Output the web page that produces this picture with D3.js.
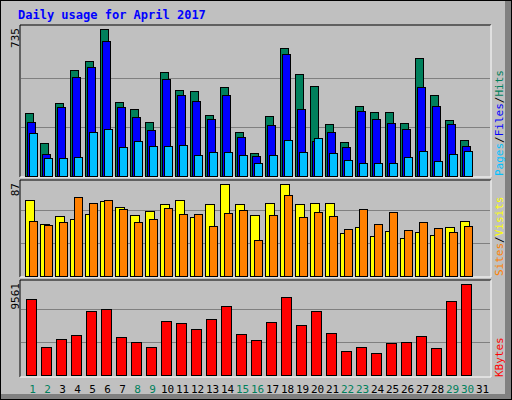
<!DOCTYPE html><html><head><script src="https://cdn.jsdelivr.net/npm/d3@7"></script>
<style>body{margin:0;background:#fff}</style></head><body><svg id="c" width="512" height="400"></svg>
<script>
const days=d3.range(1,32);
const weekend=[1,2,8,9,15,16,22,23,29,30];
const hits=[317,167,367,532,577,735,372,337,272,522,432,427,307,447,222,117,302,642,512,452,262,172,352,322,322,267,592,407,282,182,0];
const files=[272,112,347,497,547,677,347,297,232,487,407,377,287,407,197,102,257,612,337,177,222,147,327,287,267,237,447,352,262,152,0];
const pages=[217,92,92,97,222,237,147,177,152,152,157,107,122,122,107,67,107,182,122,192,117,82,67,67,67,97,127,77,112,127,0];
const visits=[66.8,45.7,52.7,50.1,54.5,65.9,60.7,53.6,57.1,63.3,66.8,51.9,63.3,80.9,63.3,53.6,64.2,80.9,63.3,64.2,64.2,37.8,43.1,35.2,39.6,33.4,38.7,36,43.1,48.3,0];
const sites=[48.3,44.8,47.5,69.4,64.2,66.8,58.9,47.5,50.1,59.8,54.5,54.5,44,55.4,58,31.6,53.6,71.2,51.9,56.3,52.7,41.3,58.9,45.7,56.3,40.4,47.5,42.2,38.7,44,0];
const kbytes=[7380,2743,3516,3902,6221,6414,3709,3226,2743,5255,5062,4482,5448,6704,3999,3420,5158,7573,4869,6221,4096,2357,2743,2164,3130,3226,3806,2647,7187,8829,0];
const maxHits=735,maxVisits=87,maxKB=9561;
const svg=d3.select("#c"),F="DejaVu Sans Mono, monospace";
svg.append("rect").attr("x",0.5).attr("y",0.5).attr("width",511).attr("height",399).attr("fill","#c0c0c0").attr("stroke","#000");
svg.append("rect").attr("x",505).attr("y",1).attr("width",6).attr("height",398).attr("fill","#808080");
svg.append("rect").attr("x",1).attr("y",394).attr("width",510).attr("height",5).attr("fill","#808080");
svg.append("text").attr("x",18).attr("y",19).attr("font-family",F).attr("font-weight","bold").attr("font-size",12).attr("fill","#0000ff").text("Daily usage for April 2017");
const x=d3.scaleLinear().domain([1,32]).range([25,490]);
function panel(top,bottom,base,hmax,max,label){
  svg.append("line").attr("x1",20).attr("x2",491).attr("y1",top).attr("y2",top).attr("stroke","#000");
  svg.append("line").attr("x1",20).attr("x2",20).attr("y1",top).attr("y2",bottom).attr("stroke","#000");
  svg.append("line").attr("x1",491).attr("x2",491).attr("y1",top).attr("y2",bottom).attr("stroke","#fff");
  svg.append("line").attr("x1",20).attr("x2",491).attr("y1",bottom).attr("y2",bottom).attr("stroke","#fff");
  const y=d3.scaleLinear().domain([0,max]).range([base,base-hmax]);
  [1/3,2/3].forEach(f=>svg.append("line").attr("x1",21).attr("x2",490).attr("y1",Math.round(y(max*f))+0.5).attr("y2",Math.round(y(max*f))+0.5).attr("stroke","#808080"));
  svg.append("text").attr("transform",`translate(19,${top+3}) rotate(-90)`).attr("text-anchor","end").attr("font-family",F).attr("font-size",11).text(label);
  return y;
}
function bars(y,data,off,w,col){
  svg.append("g").selectAll("rect").data(data).join("rect").filter(d=>d>0)
   .attr("x",(d,i)=>x(i+1)+off+0.5).attr("width",w).attr("y",d=>Math.round(y(d))+0.5).attr("height",d=>y(0)-Math.round(y(d)))
   .attr("fill",col).attr("stroke","#000");
}
const y1=panel(25,177,176,147,maxHits,"735");
bars(y1,hits,0,8,"#00805c");bars(y1,files,2,8,"#0000ff");bars(y1,pages,4,8,"#00c0ff");
const y2=panel(180,277,276,99,maxVisits,"87");
bars(y2,visits,0,9,"#ffff00");bars(y2,sites,4,8,"#ff8000");
const y3=panel(280,377,375,99,maxKB,"9561");
bars(y3,kbytes,1,10,"#ff0000");
svg.append("g").selectAll("text").data(days).join("text").attr("x",d=>x(d)+7.5).attr("y",393).attr("text-anchor","middle")
  .attr("font-family",F).attr("font-size",11).attr("fill",d=>weekend.includes(d)?"#00805c":"#000").text(d=>d);
function side(yb,parts){
  const t=svg.append("text").attr("transform",`translate(503,${yb}) rotate(-90)`).attr("font-family",F).attr("font-size",11);
  parts.forEach(p=>t.append("tspan").attr("fill",p[1]).text(p[0]));
}
side(176,[["Pages","#00c0ff"],["/","#000"],["Files","#0000ff"],["/","#000"],["Hits","#00805c"]]);
side(276,[["Sites","#ff8000"],["/","#000"],["Visits","#ffff00"]]);
side(377,[["KBytes","#ff0000"]]);
</script></body></html>
